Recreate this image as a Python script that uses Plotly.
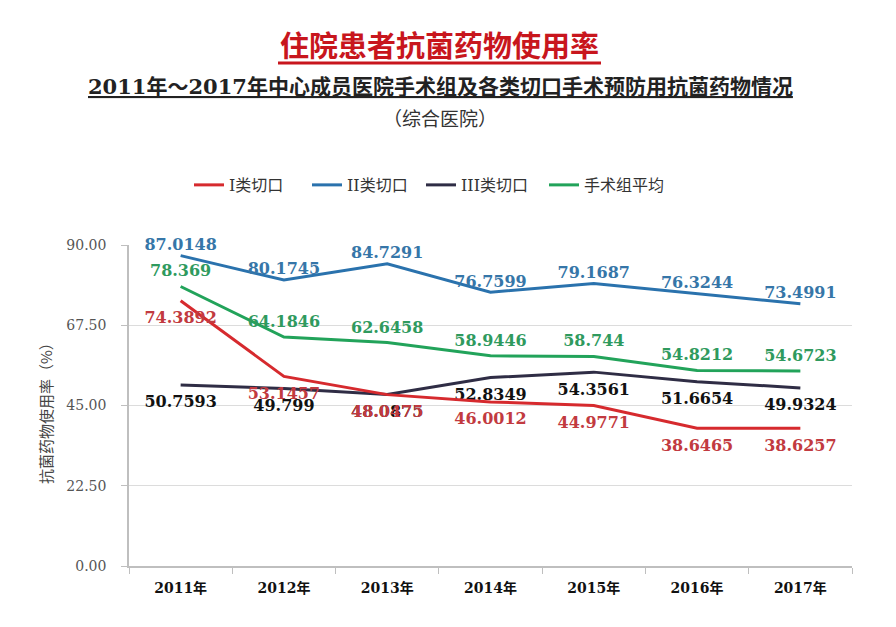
import plotly.graph_objects as go

years = ["2011年", "2012年", "2013年", "2014年", "2015年", "2016年", "2017年"]
series_names = ["I类切口", "II类切口", "III类切口", "手术组平均"]
cut1 = [74.3892, 53.1457, 48.0475, 46.0012, 44.9771, 38.6465, 38.6257]
cut2 = [87.0148, 80.1745, 84.7291, 76.7599, 79.1687, 76.3244, 73.4991]
cut3 = [50.7593, 49.799, 48.0875, 52.8349, 54.3561, 51.6654, 49.9324]
avg = [78.369, 64.1846, 62.6458, 58.9446, 58.744, 54.8212, 54.6723]
y_ticks = [0, 22.5, 45, 67.5, 90]

line_colors = ["#d62a2e", "#2a72ad", "#2f2d45", "#22a35a"]
label_colors = ["#c23a40", "#3676a8", "#111111", "#2f9a5e"]
positions = ["bottom center", "top center", "bottom center", "top center"]
pad = [15, 1, 15, 8]
data = [cut1, cut2, cut3, avg]
legend_ids = ["legend", "legend2", "legend3", "legend4"]
legend_left_px = [189, 307, 421, 544]
draw_order = [2, 1, 3, 0]  # red drawn last (on top)

serif = "DejaVu Serif, Noto Sans CJK SC"
fig = go.Figure()
for i in draw_order:
    vals = data[i]
    fig.add_trace(go.Scatter(
        x=years, y=vals, name=series_names[i], mode="lines+markers+text",
        line=dict(color=line_colors[i], width=3),
        marker=dict(size=pad[i], color="rgba(0,0,0,0)", line=dict(width=0)),
        text=[str(v) for v in vals], textposition=positions[i],
        textfont=dict(family="DejaVu Serif", size=16, color=label_colors[i], weight="bold"),
        cliponaxis=False, legend=legend_ids[i],
        hoverinfo="skip",
    ))

legend_layout = {}
for lid, px in zip(legend_ids, legend_left_px):
    legend_layout[lid] = dict(orientation="h", x=(px - 129) / 723, xanchor="left",
                              y=1.187, yanchor="middle", bgcolor="rgba(0,0,0,0)",
                              font=dict(family=serif, size=16, color="#333333"),
                              itemwidth=30)

# page body has an 8px margin, so the figure is 8px smaller and shifted
fig.update_layout(
    width=888, height=619,
    margin=dict(l=121, r=44, t=237, b=61),
    paper_bgcolor="white", plot_bgcolor="white",
    showlegend=True,
    xaxis=dict(
        range=[-0.5, 6.5], tickmode="array", tickvals=list(range(7)), ticktext=years,
        tickson="boundaries", ticks="outside", ticklen=6, tickcolor="#bfbfbf",
        showline=True, linecolor="#bfbfbf", linewidth=1.5, showgrid=False,
        tickfont=dict(family=serif, size=14, color="#111111", weight="bold"),
        ticklabelstandoff=8,
        fixedrange=True,
    ),
    yaxis=dict(
        range=[0, 90], tickvals=y_ticks, tickformat=".2f",
        ticks="outside", ticklen=6, tickcolor="#bfbfbf",
        showline=True, linecolor="#bfbfbf", linewidth=1.5,
        showgrid=True, gridcolor="#dcdcdc", gridwidth=1, zeroline=False,
        tickfont=dict(family=serif, size=14, color="#555555"),
        ticklabelstandoff=12,
    ),
    **legend_layout,
)

fig.add_annotation(text="<b>住院患者抗菌药物使用率</b>", xref="paper", yref="paper",
                   x=(439 - 129) / 723, y=(566 - 44) / 321, showarrow=False, yanchor="middle",
                   font=dict(family="Noto Sans CJK SC", size=29, color="#c8161d"))
fig.add_shape(type="line", xref="paper", yref="paper",
              x0=(278 - 129) / 723, x1=(601 - 129) / 723, y0=(566 - 63) / 321, y1=(566 - 63) / 321,
              line=dict(color="#c8161d", width=3))
fig.add_annotation(text="<b><u>2011年～2017年中心成员医院手术组及各类切口手术预防用抗菌药物情况</u></b>",
                   xref="paper", yref="paper", x=(440 - 129) / 723, y=(566 - 86) / 321,
                   showarrow=False, yanchor="middle",
                   font=dict(family="DejaVu Serif, Noto Sans CJK SC", size=21, color="#222222"))
fig.add_annotation(text="（综合医院）", xref="paper", yref="paper", x=(440 - 129) / 723,
                   y=(566 - 117) / 321, showarrow=False, yanchor="middle",
                   font=dict(family="Noto Sans CJK SC", size=19, color="#333333"))
fig.add_annotation(text="抗菌药物使用率（%）", xref="paper", yref="paper", x=(45 - 129) / 723,
                   y=(566 - 410) / 321, textangle=-90, showarrow=False,
                   xanchor="center", yanchor="middle",
                   font=dict(family="Noto Sans CJK SC", size=15, color="#444444"))

fig.write_html("out.html")
